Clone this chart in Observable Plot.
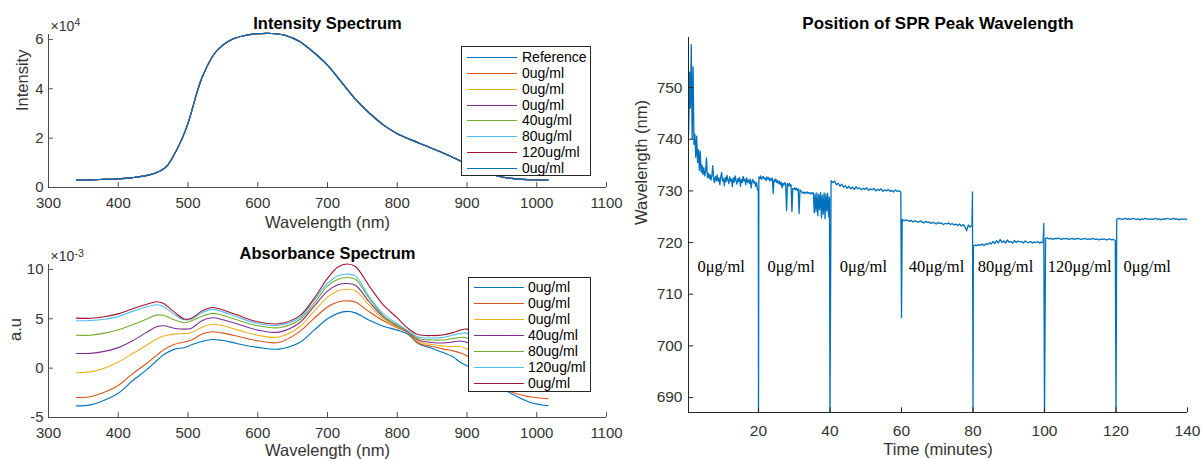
<!DOCTYPE html>
<html><head><meta charset="utf-8">
<script src="https://cdn.jsdelivr.net/npm/d3@7"></script>
<script src="https://cdn.jsdelivr.net/npm/@observablehq/plot@0.6"></script>
<style>
body{margin:0;background:#fff;}
#fig{position:relative;width:1202px;height:459px;overflow:hidden;font-family:"Liberation Sans",Arial,sans-serif;background:#fff;}
.panel{position:absolute;}
.legend{position:absolute;background:#fff;border:1px solid #262626;box-sizing:border-box;}
.legend .row{position:absolute;left:0;height:16px;width:100%;}
.legend .swatch{position:absolute;top:8px;width:50px;height:1px;}
.legend .lab{position:absolute;top:0;line-height:16px;font-size:14px;color:#000;white-space:nowrap;}
</style></head><body><div id="fig"></div>
<script>
// ---------------- DATA ----------------
const matlabColors = ["#0072BD","#D95319","#EDB120","#7E2F8E","#77AC30","#4DBEEE","#A2142F"];

// Intensity spectrum (values in units of 1e4)
const intensityWavelength = [340,360,380,400,420,440,460,470,480,490,500,520,540,560,580,600,620,640,660,680,700,720,740,760,780,800,820,840,860,880,900,920,940,960,980,1000,1016];
const intensityValues = [0.30,0.31,0.33,0.35,0.40,0.48,0.67,0.88,1.33,1.88,2.60,4.45,5.50,5.96,6.15,6.23,6.24,6.16,5.92,5.48,4.96,4.27,3.58,3.02,2.54,2.18,1.93,1.70,1.47,1.22,0.95,0.70,0.50,0.38,0.33,0.31,0.30];
const intensityLegend = ["Reference","0ug/ml","0ug/ml","0ug/ml","40ug/ml","80ug/ml","120ug/ml","0ug/ml"];
const intensityColors = ["#0072BD","#D95319","#EDB120","#7E2F8E","#77AC30","#4DBEEE","#A2142F","#0072BD"];

// Absorbance spectrum (values in units of 1e-3)
const absWavelength = [340,360,380,400,420,440,455,465,480,495,505,520,535,550,570,600,630,660,680,700,715,728,740,760,780,800,815,830,850,865,880,890,900,930,960,990,1016];
const abs0a = [-3.82,-3.72,-3.25,-2.55,-1.30,-0.20,0.75,1.35,1.90,2.10,2.36,2.70,2.90,2.80,2.50,2.10,1.93,2.60,3.80,5.00,5.55,5.75,5.60,4.85,4.25,3.85,3.45,2.50,2.00,1.60,1.15,0.60,0.25,-1.10,-2.45,-3.45,-3.80];
const abs0b = [-2.97,-2.90,-2.45,-1.75,-0.60,0.45,1.30,1.85,2.40,2.65,2.84,3.45,3.68,3.55,3.25,2.77,2.60,3.70,5.00,6.20,6.70,6.82,6.70,5.70,4.80,4.10,3.60,2.55,2.20,1.95,1.75,1.55,1.25,-0.60,-2.30,-2.90,-3.10];
const abs0c = [-0.47,-0.38,0.00,0.62,1.45,2.30,2.95,3.25,3.45,3.50,3.60,4.15,4.45,4.30,3.90,3.34,3.15,4.20,5.70,7.20,7.85,8.00,7.85,6.35,5.00,4.20,3.65,2.70,2.40,2.25,2.20,2.20,1.95,0.50,-1.40,-1.90,-2.10];
const abs40 = [1.49,1.50,1.70,2.08,2.75,3.60,4.20,4.30,4.05,3.95,4.05,4.80,5.10,4.90,4.50,3.85,3.65,4.60,6.20,7.80,8.45,8.58,8.40,6.70,5.20,4.30,3.70,2.85,2.60,2.55,2.65,2.75,2.60,1.00,-0.90,-1.40,-1.60];
const abs80 = [3.34,3.34,3.55,3.88,4.40,4.95,5.37,5.35,4.90,4.60,4.80,5.25,5.55,5.35,4.90,4.29,4.10,4.90,6.50,8.30,9.00,9.19,9.00,7.05,5.30,4.35,3.75,3.00,2.85,2.85,3.00,3.10,3.05,1.50,-0.40,-1.00,-1.20];
const abs120 = [4.80,4.82,4.95,5.22,5.75,6.20,6.42,6.25,5.45,4.90,4.97,5.60,5.95,5.70,5.20,4.53,4.35,5.10,6.80,8.60,9.35,9.53,9.35,7.20,5.50,4.50,3.80,3.15,3.05,3.10,3.35,3.50,3.55,2.00,0.00,-0.60,-0.80];
const abs0d = [5.07,5.05,5.20,5.50,6.00,6.45,6.72,6.55,5.70,4.97,5.05,5.80,6.15,5.90,5.40,4.70,4.50,5.30,7.00,9.10,10.25,10.55,10.30,8.30,6.40,5.10,4.05,3.40,3.30,3.35,3.60,3.85,3.95,2.50,0.50,-0.30,-0.50];
const absSeries = [abs0a,abs0b,abs0c,abs40,abs80,abs120,abs0d];
const absLegend = ["0ug/ml","0ug/ml","0ug/ml","40ug/ml","80ug/ml","120ug/ml","0ug/ml"];

// SPR peak wavelength vs time
const segStart = [0.45,20.1,40.3,60.2,80.1,100.3,120.2];
const segStep = [0.25,0.25,0.5,0.5,0.5,0.5,0.5];
const segValues = [
 [741,753,746,758.3,740,754,739,741,736.5,740.6,
  735.5,738,734,737.7,733.6,735,733.2,734.5,732.9,733.8,
  736.4,732.6,733.4,732.4,733.2,732.1,732.9,734.9,732.3,731.6,
  732.8,732.0,733.1,731.8,732.5,731.2,732.7,733.6,731.9,732.4,
  731.0,732.6,731.8,733.0,732.1,731.4,732.7,731.9,732.3,730.8,
  732.5,731.7,732.9,732.0,731.3,732.4,731.8,732.6,730.9,732.2,
  731.6,732.8,731.9,732.3,731.2,732.5,731.7,732.1,731.4,732.3,
  730.6,731.9,732.2,731.5,731.8,730.9,731.6,730.3,730.0],
 [732.7,732.4,732.9,732.2,732.6,732.8,732.3,732.5,732.0,732.7,
  732.3,732.6,731.9,732.4,732.1,732.5,729.5,732.2,731.8,732.3,
  731.6,732.0,731.4,731.9,731.2,731.7,730.6,731.5,731.1,731.6,
  731.3,726.2,731.4,731.0,731.5,730.9,731.2,726.0,730.5,730.3,
  730.6,730.2,730.5,730.1,730.4,725.6,730.2,730.0,729.7,729.6,
  729.8,729.5,729.7,729.6,729.8,729.5,729.7,729.6,729.4,729.7,
  729.5,729.6,725.8,729.4,726.0,729.6,725.2,729.3,726.4,729.7,
  724.8,729.2,725.5,729.6,724.6,729.4,726.1,729.5,725.0,728.8],
 [732.0,731.6,731.9,731.2,731.5,730.9,731.3,730.7,731.0,730.5,
  730.9,730.4,730.7,730.3,730.8,730.4,730.6,730.2,730.5,730.3,
  730.6,730.1,730.4,730.2,730.5,730.0,730.3,730.1,730.4,729.9,
  730.2,730.0,730.3,729.9,730.1,729.8,730.2,729.9,730.0,729.8],
 [724.5,724.2,724.4,724.3,724.1,724.3,724.0,724.2,724.1,723.9,
  724.2,724.0,723.8,724.1,723.9,724.0,723.7,723.9,723.8,723.6,
  723.9,723.7,723.8,723.5,723.7,723.6,723.8,723.5,723.7,723.4,
  723.6,723.3,723.6,723.2,723.5,723.1,722.3,723.4,723.0,723.3],
 [719.3,719.5,719.4,719.6,719.5,719.7,719.4,719.8,719.6,720.0,
  719.7,720.2,719.8,720.4,719.9,720.6,720.0,720.3,719.9,720.5,
  720.1,720.2,719.9,720.4,720.0,720.3,720.1,720.2,719.9,720.3,
  720.1,720.0,720.2,719.9,720.1,720.0,720.2,719.9,720.1,720.0],
 [720.8,720.9,720.7,720.8,720.6,720.8,720.7,720.9,720.7,720.6,
  720.8,720.7,720.8,720.6,720.7,720.8,720.6,720.7,720.8,720.7,
  720.6,720.7,720.8,720.6,720.7,720.6,720.8,720.7,720.6,720.7,
  720.5,720.7,720.6,720.7,720.5,720.6,720.7,720.5,720.6,720.4],
 [724.5,724.7,724.6,724.5,724.6,724.7,724.5,724.6,724.5,724.7,
  724.6,724.5,724.6,724.4,724.6,724.5,724.7,724.6,724.5,724.6,
  724.5,724.6,724.7,724.5,724.6,724.4,724.6,724.5,724.7,724.6,
  724.5,724.6,724.7,724.5,724.6,724.4,724.6,724.5,724.6,724.5]
];
const stepT = [20.0,40.0,60.0,79.85,80.0,99.8,100.0,120.0];
const stepV = [686,686,705.5,729.8,686,723.7,686,686];
const concLabels = ["0μg/ml","0μg/ml","0μg/ml","40μg/ml","80μg/ml","120μg/ml","0μg/ml"];
const concT = [2.94,22.5,42.7,62.0,81.3,100.9,122.1];
const concY = [715.3,715.3,715.3,715.3,715.3,715.3,715.3];

const specTicksX = [300,400,500,600,700,800,900,1000,1100];
const intTicksY = [0,2,4,6];
const absTicksY = [-5,0,5,10];
const sprTicksX = [20,40,60,80,100,120,140];
const sprTicksY = [690,700,710,720,730,740,750];

// ---------------- DRAW ----------------
const fig = document.getElementById("fig");
const sans = "Liberation Sans, Arial, sans-serif";
const fmt = d => String(d);

function place(el, left, top) {
  el.classList.add("panel");
  el.style.left = left + "px"; el.style.top = top + "px";
  fig.appendChild(el);
}

function spectrumPanel({series, colors, yDomain, yTicks, title, ylabel, ylabelDx, expBase, expPow, expPowDy, xlabelDy}) {
  const axisCol = "#4d4d4d";
  const xr = [300,1100];
  const tickLenY = (yDomain[1]-yDomain[0]) * 0.032;
  const tickLenX = (xr[1]-xr[0]) * 0.0088;
  const marks = [];
  series.forEach((s, k) => {
    marks.push(Plot.line(s.w.map((w,i)=>({w, v: s.v[i]})), {x: "w", y: "v", stroke: colors[k], strokeWidth: 1.1, curve: "catmull-rom"}));
  });
  marks.push(
    Plot.ruleY([yDomain[0]], {stroke: axisCol}),
    Plot.ruleX([xr[0]], {stroke: axisCol}),
    Plot.ruleX(specTicksX, {x: d=>d, y1: yDomain[0], y2: yDomain[0]+tickLenY, stroke: axisCol}),
    Plot.ruleY(yTicks, {y: d=>d, x1: xr[0], x2: xr[0]+tickLenX, stroke: axisCol}),
    Plot.axisX(specTicksX, {anchor: "bottom", label: null, tickSize: 0, tickPadding: 10, fontSize: 15, fill: "#333", tickFormat: fmt}),
    Plot.axisY(yTicks, {anchor: "left", label: null, tickSize: 0, tickPadding: 5, fontSize: 15, fill: "#333", tickFormat: fmt}),
    Plot.text([title], {text: d=>d, frameAnchor: "top", dy: -5.5, lineAnchor: "bottom", fontWeight: "bold", fontSize: 16.5, fill: "#000"}),
    Plot.text(["Wavelength (nm)"], {text: d=>d, frameAnchor: "bottom", dy: xlabelDy, lineAnchor: "bottom", fontSize: 16.5, fill: "#333"}),
    Plot.text([ylabel], {text: d=>d, frameAnchor: "left", dx: ylabelDx, rotate: -90, lineAnchor: "middle", fontSize: 16.5, fill: "#333"}),
    Plot.text([expBase], {text: d=>d, frameAnchor: "top-left", textAnchor: "start", lineAnchor: "bottom", dx: 2, dy: -3.5, fontSize: 14, fill: "#333"}),
    Plot.text([expPow], {text: d=>d, frameAnchor: "top-left", textAnchor: "start", lineAnchor: "bottom", dx: 26, dy: expPowDy, fontSize: 10.5, fill: "#333"})
  );
  return Plot.plot({
    width: 620, height: 235, marginLeft: 48, marginRight: 14, marginTop: 34, marginBottom: 48,
    x: {domain: xr}, y: {domain: yDomain},
    style: {background: "transparent", fontFamily: sans, overflow: "visible"},
    marks
  });
}

const intSeries = intensityLegend.map(() => ({w: intensityWavelength, v: intensityValues}));
place(spectrumPanel({series: intSeries, colors: intensityColors, yDomain: [0,6.2], yTicks: intTicksY,
  title: "Intensity Spectrum", ylabel: "Intensity", ylabelDx: -26, expBase: "×10", expPow: "4", expPowDy: -9, xlabelDy: 40.5}), 0, 0);

const absS = absSeries.map(v => ({w: absWavelength, v}));
place(spectrumPanel({series: absS, colors: matlabColors, yDomain: [-5,10.5], yTicks: absTicksY,
  title: "Absorbance Spectrum", ylabel: "a.u", ylabelDx: -33, expBase: "×10", expPow: "-3", expPowDy: -8, xlabelDy: 38}), 0, 230);

// legends (HTML)
function legend(labels, colors, left, top, w, h, firstCenter, spacing, textLeft) {
  const box = document.createElement("div");
  box.className = "legend";
  Object.assign(box.style, {left: left+"px", top: top+"px", width: w+"px", height: h+"px"});
  labels.forEach((lab, i) => {
    const row = document.createElement("div");
    row.className = "row";
    row.style.top = Math.round(firstCenter + i*spacing - 9) + "px";
    const sw = document.createElement("div");
    sw.className = "swatch";
    sw.style.left = "5px"; sw.style.background = colors[i];
    const tx = document.createElement("div");
    tx.className = "lab"; tx.style.left = textLeft + "px"; tx.textContent = lab;
    row.appendChild(sw); row.appendChild(tx); box.appendChild(row);
  });
  fig.appendChild(box);
}
legend(intensityLegend, intensityColors, 461, 46, 130, 130, 11, 15.86, 60);
legend(absLegend, matlabColors, 468, 277, 123, 115, 10, 16.0, 59);

// SPR panel
const sprPts = [];
segValues.forEach((vals, s) => vals.forEach((v, i) => sprPts.push({t: segStart[s] + i*segStep[s], v})));
stepT.forEach((t, i) => sprPts.push({t, v: stepV[i]}));
sprPts.sort((a,b) => a.t - b.t);
const sprX = [0.42, 140], sprY = [687.1, 759.7];
const axR = "#262626";
const concData = concLabels.map((label, i) => ({label, t: concT[i], y: concY[i]}));
const spr = Plot.plot({
  width: 582, height: 459, marginLeft: 68, marginRight: 15, marginTop: 37, marginBottom: 47,
  x: {domain: sprX}, y: {domain: sprY},
  style: {background: "transparent", fontFamily: sans, overflow: "visible"},
  marks: [
    Plot.line(sprPts, {x: "t", y: "v", stroke: "#0072BD", strokeWidth: 1.3, clip: true}),
    Plot.text(concData, {x: "t", y: "y", text: "label", textAnchor: "start", lineAnchor: "middle", fontFamily: "Liberation Serif, Times New Roman, serif", fontSize: 16.5, fill: "#000"}),
    Plot.ruleY([sprY[0]], {stroke: axR}),
    Plot.ruleX([sprX[0]], {stroke: axR}),
    Plot.ruleX(sprTicksX, {x: d=>d, y1: sprY[0], y2: sprY[0] + (sprY[1]-sprY[0])*0.0125, stroke: axR}),
    Plot.ruleY(sprTicksY, {y: d=>d, x1: sprX[0], x2: sprX[0] + (sprX[1]-sprX[0])*0.0105, stroke: axR}),
    Plot.axisX(sprTicksX, {anchor: "bottom", label: null, tickSize: 0, tickPadding: 12, fontSize: 15.5, fill: "#333", tickFormat: fmt}),
    Plot.axisY(sprTicksY, {anchor: "left", label: null, tickSize: 0, tickPadding: 6, fontSize: 15.5, fill: "#333", tickFormat: fmt}),
    Plot.text(["Position of SPR Peak Wavelength"], {text: d=>d, frameAnchor: "top", dy: -9, lineAnchor: "bottom", fontWeight: "bold", fontSize: 17, fill: "#000"}),
    Plot.text(["Time (minutes)"], {text: d=>d, frameAnchor: "bottom", dy: 42, lineAnchor: "bottom", fontSize: 16.5, fill: "#333"}),
    Plot.text(["Wavelength (nm)"], {text: d=>d, frameAnchor: "left", dx: -46.5, rotate: -90, lineAnchor: "middle", fontSize: 16.5, fill: "#333"})
  ]
});
place(spr, 620, 0);
</script></body></html>
